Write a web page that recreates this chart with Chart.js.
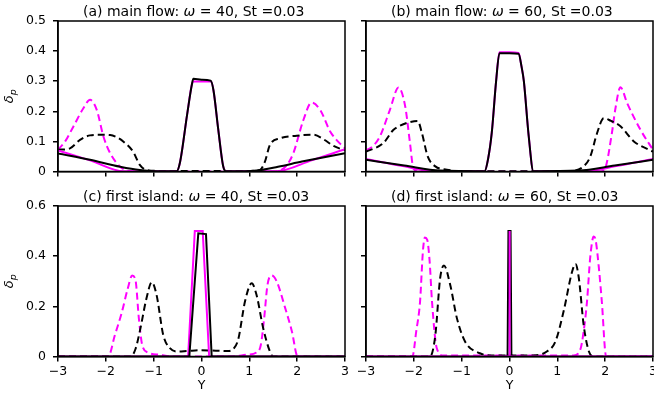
<!DOCTYPE html>
<html>
<head>
<meta charset="utf-8">
<script src="https://cdn.jsdelivr.net/npm/chart.js@4.4.1/dist/chart.umd.min.js"></script>
<style>
  html, body { margin: 0; padding: 0; background: #fff; }
  #wrap { position: relative; width: 654px; height: 397px; }
  #wrap canvas { position: absolute; left: 0; top: 0; }
</style>
</head>
<body>
<div id="wrap">
  <canvas id="panelA" width="654" height="397"></canvas>
  <canvas id="panelB" width="654" height="397"></canvas>
  <canvas id="panelC" width="654" height="397"></canvas>
  <canvas id="panelD" width="654" height="397"></canvas>
</div>
<script>
// ---- panel titles / ticks ----
const panelNames = ['(a) main flow', '(b) main flow', '(c) first island', '(d) first island'];
const omegas = [40, 60, 40, 60];
const stValue = '0.03';
const xTicks = [-3, -2, -1, 0, 1, 2, 3];
const yTicksMain = [0, 0.1, 0.2, 0.3, 0.4, 0.5];
const yTicksIsland = [0, 0.2, 0.4, 0.6];

// ---- (a) main flow, omega = 40 ----
const aSolidBlackY = [-3, -2.33, -1.7, -1.29, -0.9, -0.52, -0.45, -0.3, -0.2, -0.17, 0, 0.19, 0.25, 0.35, 0.45, 0.51, 0.9, 1.15, 1.6, 2.1, 3];
const aSolidBlackV = [0.06, 0.039, 0.016, 0.005, 0.001, 0.001, 0.03, 0.19, 0.29, 0.308, 0.305, 0.302, 0.27, 0.14, 0.02, 0.001, 0.001, 0.003, 0.016, 0.033, 0.061];
const aSolidMagY = [-3, -2.33, -1.63, -0.52, -0.45, -0.3, -0.2, -0.17, 0, 0.2, 0.25, 0.35, 0.45, 0.51, 1.57, 2.3, 3];
const aSolidMagV = [0.07, 0.037, 0.001, 0.001, 0.03, 0.19, 0.29, 0.299, 0.299, 0.299, 0.27, 0.14, 0.02, 0.001, 0.001, 0.037, 0.074];
const aDashBlackY = [-3, -2.75, -2.54, -2.33, -2.1, -1.91, -1.75, -1.63, -1.43, -1.29, -1.15, -0.9, 0, 0.9, 1.22, 1.32, 1.43, 1.64, 1.99, 2.34, 2.55, 2.76, 3];
const aDashBlackV = [0.072, 0.077, 0.105, 0.12, 0.122, 0.121, 0.112, 0.099, 0.066, 0.022, 0.005, 0.002, 0.002, 0.002, 0.005, 0.03, 0.088, 0.11, 0.119, 0.122, 0.107, 0.085, 0.07];
const aDashMagY = [-3, -2.85, -2.68, -2.47, -2.33, -2.19, -2.05, -1.91, -1.7, -1.56, -1.4, 1.5, 1.64, 1.78, 1.92, 2.13, 2.3, 2.48, 2.69, 2.85, 3];
const aDashMagV = [0.072, 0.1, 0.149, 0.21, 0.238, 0.205, 0.116, 0.061, 0.016, 0.003, 0, 0, 0.003, 0.02, 0.061, 0.171, 0.229, 0.205, 0.133, 0.1, 0.077];

// ---- (b) main flow, omega = 60 ----
const bSolidBlackY = [-3, -2.2, -1.45, -0.52, -0.45, -0.37, -0.28, -0.21, 0, 0.19, 0.25, 0.3, 0.4, 0.5, 1.45, 2.2, 3];
const bSolidBlackV = [0.039, 0.02, 0.003, 0.001, 0.04, 0.13, 0.3, 0.393, 0.393, 0.391, 0.35, 0.3, 0.12, 0.001, 0.003, 0.02, 0.039];
const bSolidMagY = [-3, -2.2, -1.6, -0.52, -0.45, -0.37, -0.28, -0.21, 0, 0.19, 0.25, 0.3, 0.4, 0.5, 1.6, 2.2, 3];
const bSolidMagV = [0.042, 0.017, 0.001, 0.001, 0.04, 0.13, 0.3, 0.396, 0.396, 0.394, 0.35, 0.3, 0.12, 0.001, 0.001, 0.017, 0.042];
const bDashBlackY = [-3, -2.64, -2.43, -2.29, -2.15, -1.92, -1.83, -1.71, -1.55, -1.31, -1.03, 1.2, 1.55, 1.69, 1.83, 1.97, 2.11, 2.32, 2.6, 3];
const bDashBlackV = [0.066, 0.094, 0.138, 0.152, 0.161, 0.168, 0.127, 0.05, 0.017, 0.006, 0.001, 0.001, 0.017, 0.05, 0.127, 0.177, 0.169, 0.15, 0.1, 0.066];
const bDashMagY = [-3, -2.85, -2.71, -2.5, -2.32, -2.18, -2.08, -2.01, -1.9, 1.9, 2.0, 2.14, 2.21, 2.32, 2.46, 2.74, 3];
const bDashMagV = [0.07, 0.085, 0.116, 0.205, 0.279, 0.216, 0.094, 0.011, 0, 0, 0.011, 0.127, 0.205, 0.28, 0.227, 0.138, 0.072];

// ---- (c) first island, omega = 40 ----
const cSolidBlackY = [-3, -0.255, -0.067, 0.094, 0.213, 3];
const cSolidBlackV = [0, 0, 0.491, 0.488, 0, 0];
const cSolidMagY = [-3, -0.28, -0.14, 0.025, 0.16, 3];
const cSolidMagV = [0, 0, 0.5, 0.5, 0, 0];
const cDashBlackY = [-3, -1.48, -1.38, -1.29, -1.15, -1.04, -0.94, -0.8, -0.66, -0.5, -0.3, 0, 0.3, 0.55, 0.68, 0.77, 0.91, 1.05, 1.15, 1.29, 1.43, 1.5, 3];
const cDashBlackV = [0, 0, 0.03, 0.1, 0.232, 0.296, 0.246, 0.086, 0.033, 0.02, 0.022, 0.025, 0.023, 0.022, 0.033, 0.07, 0.22, 0.292, 0.246, 0.113, 0.02, 0, 0];
const cDashMagY = [-3, -1.95, -1.81, -1.67, -1.54, -1.45, -1.38, -1.31, -1.24, -1.12, -0.87, -0.6, 0.6, 0.94, 1.15, 1.24, 1.31, 1.38, 1.47, 1.57, 1.75, 1.89, 2.01, 3];
const cDashMagV = [0, 0, 0.086, 0.173, 0.272, 0.323, 0.305, 0.153, 0.046, 0.016, 0.007, 0, 0, 0.007, 0.016, 0.046, 0.153, 0.286, 0.323, 0.3, 0.193, 0.1, 0, 0];

// ---- (d) first island, omega = 60 ----
const dSolidBlackY = [-3, -0.04, -0.022, 0.022, 0.04, 3];
const dSolidBlackV = [0, 0, 0.5, 0.5, 0, 0];
const dSolidMagY = [-3, -0.006, 0, 0.006, 3];
const dSolidMagV = [0, 0, 0.5, 0, 0];
const dDashBlackY = [-3, -1.66, -1.55, -1.45, -1.37, -1.24, -1.1, -0.93, -0.62, -0.34, 0.5, 0.78, 0.96, 1.13, 1.31, 1.38, 1.45, 1.55, 1.66, 1.76, 3];
const dDashBlackV = [0, 0, 0.086, 0.312, 0.363, 0.286, 0.153, 0.06, 0.013, 0.004, 0.004, 0.02, 0.06, 0.179, 0.339, 0.369, 0.312, 0.126, 0.02, 0, 0];
const dDashMagY = [-3, -2.03, -1.95, -1.87, -1.81, -1.77, -1.72, -1.67, -1.62, -1.52, -1.38, 1.34, 1.48, 1.55, 1.62, 1.69, 1.76, 1.8, 1.87, 1.93, 2.02, 3];
const dDashMagV = [0, 0, 0.1, 0.219, 0.42, 0.474, 0.465, 0.38, 0.219, 0.033, 0.004, 0.004, 0.027, 0.1, 0.219, 0.4, 0.478, 0.465, 0.35, 0.219, 0, 0];

const BLACK = '#000000';
const MAGENTA = '#ff00ff';
const FAMILY = '"DejaVu Sans"';
const W = 654, H = 397;

function pts(xs, vs) {
    return xs.map((x, i) => ({ x: x, y: vs[i] }));
}

function series(xs, vs, color, dashed, smooth) {
    return {
        data: pts(xs, vs),
        borderColor: color,
        backgroundColor: color,
        borderWidth: 2,
        borderDash: dashed ? [7, 4] : [],
        pointRadius: 0,
        fill: false,
        cubicInterpolationMode: smooth ? 'monotone' : 'default',
        tension: 0
    };
}

// frame, title and axis labels drawn on top of the lines
function decor(idx, showYLabel, showXLabel) {
    return {
        id: 'decor',
        afterDatasetsDraw(chart) {
            const ctx = chart.ctx, a = chart.chartArea;
            ctx.save();
            ctx.strokeStyle = BLACK;
            ctx.lineWidth = 1.5;
            ctx.strokeRect(a.left, a.top, a.right - a.left, a.bottom - a.top);

            ctx.fillStyle = BLACK;
            ctx.textBaseline = 'alphabetic';
            const parts = [
                [panelNames[idx] + ': ', false],
                ['ω', true],
                [' = ' + omegas[idx] + ', St =' + stValue, false]
            ];
            let x = a.left + 25;
            parts.forEach(([t, italic]) => {
                ctx.font = (italic ? 'italic ' : '') + '14px ' + FAMILY;
                ctx.fillText(t, x, a.top - 5.5);
                x += ctx.measureText(t).width;
            });

            if (showYLabel) {
                ctx.save();
                ctx.translate(12.5, (a.top + a.bottom) / 2);
                ctx.rotate(-Math.PI / 2);
                ctx.font = 'italic 13px ' + FAMILY;
                const wd = ctx.measureText('δ').width;
                ctx.font = 'italic 9.5px ' + FAMILY;
                const wp = ctx.measureText('p').width;
                const x0 = -(wd + wp) / 2;
                ctx.font = 'italic 13px ' + FAMILY;
                ctx.fillText('δ', x0, 0);
                ctx.font = 'italic 9.5px ' + FAMILY;
                ctx.fillText('p', x0 + wd, 3);
                ctx.restore();
            }
            if (showXLabel) {
                ctx.font = '12.5px ' + FAMILY;
                ctx.textAlign = 'center';
                ctx.fillText('Y', (a.left + a.right) / 2, 389);
            }
            ctx.restore();
        }
    };
}

function makePanel(id, idx, box, datasets, yMax, yTicks, leftCol, bottomRow) {
    new Chart(document.getElementById(id), {
        type: 'line',
        data: { datasets: datasets },
        options: {
            responsive: false,
            animation: false,
            devicePixelRatio: 1,
            layout: { padding: { left: 0, top: box.top, right: W - box.right, bottom: 0 } },
            plugins: { legend: { display: false }, tooltip: { enabled: false } },
            scales: {
                x: {
                    type: 'linear',
                    min: -3,
                    max: 3,
                    afterBuildTicks: s => { s.ticks = xTicks.map(v => ({ value: v })); },
                    afterFit: s => { s.height = H - box.bottom; s.paddingLeft = 0; s.paddingRight = 0; },
                    grid: { drawOnChartArea: false, drawTicks: true, tickLength: 5, color: BLACK, lineWidth: 1.5 },
                    border: { display: true, color: BLACK, width: 1.5 },
                    ticks: {
                        display: bottomRow,
                        padding: 3,
                        color: BLACK,
                        maxRotation: 0,
                        font: { family: 'DejaVu Sans', size: 12.5 },
                        callback: v => v < 0 ? '\u2212' + Math.abs(v) : String(v)
                    }
                },
                y: {
                    min: 0,
                    max: yMax,
                    afterBuildTicks: s => { s.ticks = yTicks.map(v => ({ value: v })); },
                    afterFit: s => { s.width = box.left; s.paddingTop = 0; s.paddingBottom = 0; },
                    grid: { drawOnChartArea: false, drawTicks: true, tickLength: 5, color: BLACK, lineWidth: 1.5 },
                    border: { display: true, color: BLACK, width: 1.5 },
                    ticks: {
                        display: leftCol,
                        padding: 7,
                        color: BLACK,
                        font: { family: 'DejaVu Sans', size: 12.5 },
                        callback: v => String(Math.round(v * 10) / 10)
                    }
                }
            }
        },
        plugins: [decor(idx, leftCol, bottomRow)]
    });
}

const boxA = { left: 58, top: 21, right: 345, bottom: 171.5 };
const boxB = { left: 366, top: 21, right: 653, bottom: 171.5 };
const boxC = { left: 58, top: 206, right: 345, bottom: 356.5 };
const boxD = { left: 366, top: 206, right: 653, bottom: 356.5 };

makePanel('panelA', 0, boxA, [
    series(aSolidBlackY, aSolidBlackV, BLACK, false, true),
    series(aSolidMagY, aSolidMagV, MAGENTA, false, true),
    series(aDashBlackY, aDashBlackV, BLACK, true, true),
    series(aDashMagY, aDashMagV, MAGENTA, true, true)
], 0.5, yTicksMain, true, false);

makePanel('panelB', 1, boxB, [
    series(bSolidBlackY, bSolidBlackV, BLACK, false, true),
    series(bSolidMagY, bSolidMagV, MAGENTA, false, true),
    series(bDashBlackY, bDashBlackV, BLACK, true, true),
    series(bDashMagY, bDashMagV, MAGENTA, true, true)
], 0.5, yTicksMain, false, false);

makePanel('panelC', 2, boxC, [
    series(cSolidBlackY, cSolidBlackV, BLACK, false, false),
    series(cSolidMagY, cSolidMagV, MAGENTA, false, false),
    series(cDashBlackY, cDashBlackV, BLACK, true, true),
    series(cDashMagY, cDashMagV, MAGENTA, true, true)
], 0.6, yTicksIsland, true, true);

// the thin magenta spike sits on top of the black one here
makePanel('panelD', 3, boxD, [
    series(dSolidMagY, dSolidMagV, MAGENTA, false, false),
    series(dSolidBlackY, dSolidBlackV, BLACK, false, false),
    series(dDashBlackY, dDashBlackV, BLACK, true, true),
    series(dDashMagY, dDashMagV, MAGENTA, true, true)
], 0.6, yTicksIsland, false, true);
</script>
</body>
</html>
